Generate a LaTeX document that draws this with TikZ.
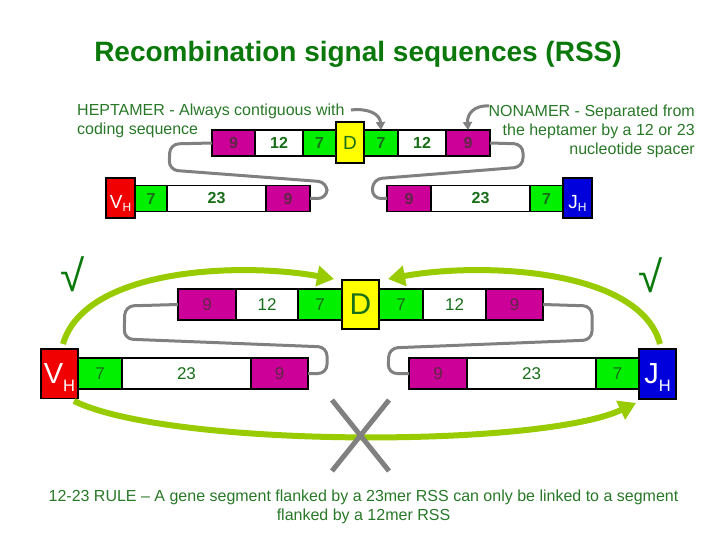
\documentclass[tikz,border=0pt]{standalone}
\usepackage{fontspec}
\setmainfont{Liberation Sans}
\usetikzlibrary{arrows.meta}
\definecolor{cMag}{RGB}{204,0,153}
\definecolor{cGreen}{RGB}{0,240,0}
\definecolor{cYellow}{RGB}{255,255,0}
\definecolor{cRed}{RGB}{240,0,0}
\definecolor{cBlue}{RGB}{0,0,220}
\definecolor{cNum}{RGB}{25,110,25}
\definecolor{cNine}{RGB}{95,40,70}
\definecolor{cTitle}{RGB}{10,120,10}
\definecolor{cTxt}{RGB}{40,120,40}
\definecolor{cGray}{RGB}{128,128,128}
\definecolor{cLime}{RGB}{153,204,0}
\newcommand\vhlbl[5]{\raisebox{#1}[0pt][0pt]{\fontsize{#2}{#2}\selectfont #5\raisebox{#3}{\fontsize{#4}{#4}\selectfont H}}}
\begin{document}
\begin{tikzpicture}[x=1pt,y=-1pt,
  box/.style={draw=black, line width=1.5pt, inner sep=0pt, outer sep=0pt},
  mg/.style={box, fill=cMag, text=cNine},
  gn/.style={box, fill=cGreen, text=cNum},
  wt/.style={box, fill=white, text=cNum},
  yl/.style={box, fill=cYellow, text=cNum},
  rd/.style={box, fill=cRed, text=white},
  bl/.style={box, fill=cBlue, text=white},
  tfont/.style={font=\fontsize{16}{16}\selectfont\bfseries},
  bfont/.style={font=\fontsize{17}{17}\selectfont},
  rowT/.style={minimum height=26pt, tfont},
  rowB/.style={minimum height=31pt, bfont},
  gconn/.style={draw=cGray, line width=3pt, rounded corners=9pt},
  garrow/.style={draw=cGray, line width=3pt, -{Triangle[length=8pt,width=9pt]}},
  limearrow/.style={draw=cLime, line width=6pt, -{Triangle[length=17pt,width=20pt]}},
  note/.style={text=cTxt, inner sep=0pt, font=\fontsize{16}{19}\selectfont},
  check/.style={text=cTitle, inner sep=0pt, font=\fontsize{44}{44}\selectfont}
]
\useasboundingbox (0,0) rectangle (720,540);

% title
\node[text=cTitle, font=\fontsize{28}{28}\selectfont\bfseries, anchor=base] (title) at (358,62) {Recombination signal sequences (RSS)};

% annotations
\node[note, anchor=north west, align=left] (hept) at (77,104) {HEPTAMER - Always contiguous with\\coding sequence};
\node[note, anchor=north east, align=right] (non) at (695,105) {NONAMER - Separated from\\the heptamer by a 12 or 23\\nucleotide spacer};

% ---------- top section ----------
\node[mg, rowT, minimum width=43pt] (t9a) at (233.5,143) {9};
\node[wt, rowT, minimum width=48pt] (t12a) at (279,143) {12};
\node[gn, rowT, minimum width=33pt] (t7a) at (319.5,143) {7};
\node[gn, rowT, minimum width=34pt] (t7b) at (381,143) {7};
\node[wt, rowT, minimum width=48pt] (t12b) at (422,143) {12};
\node[mg, rowT, minimum width=44pt] (t9b) at (468,143) {9};
\node[yl, minimum width=28pt, minimum height=41pt, font=\fontsize{19}{19}\selectfont] (tD) at (350,142.5) {D};

\node[gn, rowT, minimum width=32pt] (t7c) at (151,198.5) {7};
\node[wt, rowT, minimum width=99pt] (t23a) at (216.5,198.5) {23};
\node[mg, rowT, minimum width=44pt] (t9c) at (288,198.5) {9};
\node[rd, minimum width=29pt, minimum height=40pt] (tVH) at (120.5,198) {\vhlbl{-11pt}{19}{-2.7pt}{12}{V}};

\node[mg, rowT, minimum width=44pt] (t9d) at (409,198.5) {9};
\node[wt, rowT, minimum width=99pt] (t23b) at (480.5,198.5) {23};
\node[gn, rowT, minimum width=33pt] (t7d) at (546.5,198.5) {7};
\node[bl, minimum width=29pt, minimum height=40pt] (tJH) at (577.5,198) {\vhlbl{-10.5pt}{19}{-3pt}{12}{J}};

\draw[gconn] (t9a.west) -- (170,144) -- (169,170) -- (327,182) -- (327,198.5) -- (t9c.east);
\draw[gconn] (t9b.east) -- (523,144) -- (523,167) -- (373,179) -- (372,198.5) -- (t9d.west);

\coordinate (heptEnd) at (351,110);
\coordinate (nonEnd) at (489,106);
\draw[garrow] (heptEnd) .. controls (368,108) and (380,114) .. (t7b.north);
\draw[garrow] (nonEnd) .. controls (474,105) and (467,114) .. (t9b.north);

% ---------- bottom section ----------
\node[mg, rowB, minimum width=58pt] (b9a) at (207,304.5) {9};
\node[wt, rowB, minimum width=62pt] (b12a) at (267,304.5) {12};
\node[gn, rowB, minimum width=44pt] (b7a) at (320,304.5) {7};
\node[gn, rowB, minimum width=44pt] (b7b) at (401,304.5) {7};
\node[wt, rowB, minimum width=63pt] (b12b) at (454.5,304.5) {12};
\node[mg, rowB, minimum width=57pt] (b9b) at (514.5,304.5) {9};
\node[yl, minimum width=37pt, minimum height=49pt, font=\fontsize{30}{30}\selectfont] (bD) at (360.5,304.5) {D};

\node[gn, rowB, minimum width=44pt] (b7c) at (100,373.5) {7};
\node[wt, rowB, minimum width=129pt] (b23a) at (186.5,373.5) {23};
\node[mg, rowB, minimum width=57pt] (b9c) at (279.5,373.5) {9};
\node[rd, minimum width=37pt, minimum height=49.5pt] (bVH) at (59.5,373.75) {\vhlbl{-9.3pt}{29}{-8.7pt}{16.5}{V}};

\node[mg, rowB, minimum width=58pt] (b9d) at (438,373.5) {9};
\node[wt, rowB, minimum width=129pt] (b23b) at (531.5,373.5) {23};
\node[gn, rowB, minimum width=43pt] (b7d) at (617.5,373.5) {7};
\node[bl, minimum width=37pt, minimum height=50pt] (bJH) at (657.5,374) {\vhlbl{-9.3pt}{29}{-7.7pt}{16.5}{J}};

\draw[gconn] (b9a.west) -- (125,306) -- (124,339) -- (327,347) -- (327,373.5) -- (b9c.east);
\draw[gconn] (b9b.east) -- (592,306) -- (592,340) -- (389,348) -- (388,373.5) -- (b9d.west);

% lime arrows
\coordinate (lStart) at (63,344);
\coordinate (lEnd) at (334,279);
\coordinate (rStart) at (660,344);
\coordinate (rEnd) at (388,279);
\coordinate (bStart) at (74,401);
\coordinate (bEnd) at (636,403);
\draw[limearrow] (lStart) .. controls (85,268) and (240,262) .. (lEnd);
\draw[limearrow] (rStart) .. controls (640,268) and (480,262) .. (rEnd);
\draw[limearrow] (bStart) .. controls (170,448) and (540,448) .. (bEnd);

% checks
\node[check] (chkL) at (72.5,274) {√};
\node[check] (chkR) at (651,275) {√};

% X
\coordinate (x1) at (332,400);
\coordinate (x2) at (389,471);
\coordinate (x3) at (389,400);
\coordinate (x4) at (332,471);
\draw[draw=cGray, line width=5pt] (x1) -- (x2);
\draw[draw=cGray, line width=5pt] (x3) -- (x4);

% rule text
\node[note, anchor=north, align=center] (rule) at (363.5,490) {12-23 RULE – A gene segment flanked by a 23mer RSS can only be linked to a segment\\flanked by a 12mer RSS};
\end{tikzpicture}
\end{document}
